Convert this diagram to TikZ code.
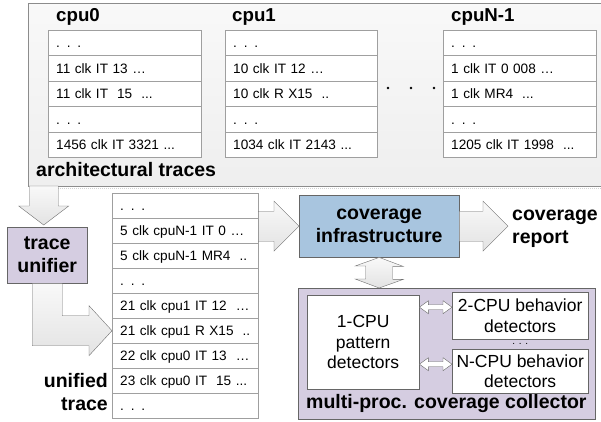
\documentclass[tikz,border=0pt]{standalone}
\usepackage{fontspec}
\setmainfont{Liberation Sans}
\usetikzlibrary{positioning,calc}

\definecolor{panelline}{HTML}{8C8C8C}
\definecolor{rowline}{HTML}{A0A0A0}
\definecolor{boxline}{HTML}{666666}
\definecolor{arrline}{HTML}{707070}
\definecolor{lavender}{HTML}{D5CDE1}
\definecolor{infrablue}{HTML}{A8C5DF}

% dots in trace rows (kept out of \foreach lists)
\newcommand\skiprow{. . .}
\newcommand\tdots{...}
\newcommand\tdd{..}

\tikzset{
  panel/.style={draw=panelline, top color=gray!5, bottom color=gray!13, anchor=north west, inner sep=0pt},
  row/.style={draw=rowline, fill=white, anchor=north west, text width=137pt, inner xsep=8pt, inner ysep=0pt,
    minimum height=25.4pt, text height=9.9pt, text depth=0pt, align=left, font=\fontsize{13.6}{16}\selectfont},
  cpulabel/.style={anchor=base west, inner sep=0pt, font=\fontsize{18.7}{22}\selectfont\bfseries},
  biglabel/.style={inner sep=0pt, font=\fontsize{19.5}{23}\selectfont\bfseries},
  unibox/.style={draw=boxline, fill=lavender, anchor=north west, inner sep=0pt, align=center,
    font=\fontsize{19.5}{23}\selectfont\bfseries},
  detbox/.style={draw=boxline, fill=white, anchor=north west, inner sep=0pt, align=center,
    font=\fontsize{17.5}{20.5}\selectfont},
  blockarr/.style={draw=arrline, top color=gray!5, bottom color=gray!22, line join=miter},
  hollowarr/.style={draw=boxline, fill=white, line join=miter},
  tableedge/.style={draw=gray!75, line width=0.9pt},
}

\begin{document}
\begin{tikzpicture}[x=1pt,y=-1pt]
\useasboundingbox (0,0) rectangle (601,422);

% per-cpu traces
\node[panel, minimum width=577pt, minimum height=183pt] (archpanel) at (28,3) {};
\draw[gray!35, dash pattern=on 1pt off 1pt] ($(archpanel.south west)+(30,2)$) -- ($(archpanel.south east)+(0,2)$);

\node[cpulabel] (cpu0lbl) at (56,22) {cpu0};
\node[cpulabel] (cpu1lbl) at (232,22) {cpu1};
\node[cpulabel] (cpuNlbl) at (451,22) {cpuN-1};

\foreach \txt [count=\i] in {\skiprow, {11 clk IT 13 …}, {11 clk IT \ 15 \ \tdots}, \skiprow, {1456 clk IT 3321 \tdots}}
  \node[row] (c0r\i) at (48,{30+(\i-1)*25.4}) {\mbox{\txt}};
\foreach \txt [count=\i] in {\skiprow, {10 clk IT 12 …}, {10 clk R X15 \ \tdd}, \skiprow, {1034 clk IT 2143 \tdots}}
  \node[row, text width=136pt] (c1r\i) at (225,{30+(\i-1)*25.4}) {\mbox{\txt}};
\foreach \txt [count=\i] in {\skiprow, {1 clk IT 0 008 …}, {1 clk MR4 \ \tdots}, \skiprow, {1205 clk IT 1998 \ \tdots}}
  \node[row] (cNr\i) at (443,{30+(\i-1)*25.4}) {\mbox{\txt}};

\draw[tableedge] (c0r1.north west) rectangle (c0r5.south east);
\draw[tableedge] (c1r1.north west) rectangle (c1r5.south east);
\draw[tableedge] (cNr1.north west) rectangle (cNr5.south east);

\foreach \x in {388,411,434}
  \fill (\x,88) circle (1.3pt);

\node[biglabel, anchor=base west] (archlbl) at (36,176) {architectural traces};

% unifier
\node[unibox, minimum width=80pt, minimum height=56pt] (unifier) at (7,227) {trace\\unifier};

\coordinate (downtip) at ($(unifier.north)+(-3.5,-2)$);
\path[blockarr] (downtip) -- ++(-25,-19) -- ++(10.5,0) -- ++(0,-20) -- ++(29,0) -- ++(0,20) -- ++(10.5,0) -- cycle;

% merged trace
\foreach \txt [count=\i] in {\skiprow, {5 clk cpuN-1 IT 0 …}, {5 clk cpuN-1 MR4 \ \tdd}, \skiprow,
    {21 clk cpu1 IT 12 \ …}, {21 clk cpu1 R X15 \ \tdd}, {22 clk cpu0 IT 13 \ …}, {23 clk cpu0 IT \ 15 \tdots}, \skiprow}
  \node[row, text width=130pt, minimum height=25pt] (ut\i) at (112,{193+(\i-1)*25}) {\mbox{\txt}};
\draw[tableedge] (ut1.north west) rectangle (ut9.south east);

\node[biglabel, anchor=east, align=right] (utlbl) at (108,392) {unified\\trace};

\path[blockarr] ($(unifier.south)+(-15,0)$) |- ($(ut6.west)+(-23,15)$) -- ++(0,10) -- (ut6.west)
  -- ++(-23,-25) -- ++(0,10) -| ($(unifier.south)+(15,0)$) -- cycle;

% coverage
\node[unibox, fill=infrablue, minimum width=160pt, minimum height=62pt] (infra) at (299,195) {coverage\\infrastructure};

\path[blockarr] (infra.west) -- ++(-25,-25) -- ++(0,10) -- ($(infra.west -| ut1.east)+(0,-15)$) -- ++(0,30)
  -- ($(infra.west)+(-25,15)$) -- ++(0,10) -- cycle;

\node[biglabel, anchor=west, align=left] (report) at (512,229) {coverage\\report};
\coordinate (reptip) at ($(infra.east -| report.west)+(-4,0)$);
\path[blockarr] (reptip) -- ++(-25,-25) -- ++(0,10) -- ($(infra.east)+(0,-15)$) -- ++(0,30)
  -- ($(reptip)+(-25,15)$) -- ++(0,10) -- cycle;

% collector
\node[unibox, minimum width=297pt, minimum height=131pt] (collector) at (298,288) {};
\node[biglabel, anchor=base west] (colltitle) at (306,408) {multi-proc. coverage collector};

\path[blockarr] (infra.south) -- ++(24,9) -- ++(-10.5,0) -- ++(0,13) -- ++(10.5,0) -- (infra.south |- collector.north)
  -- ++(-24,-9) -- ++(10.5,0) -- ++(0,-13) -- ++(-10.5,0) -- cycle;

\node[detbox, minimum width=112pt, minimum height=94pt] (onecpu) at (307,295) {1-CPU\\pattern\\detectors};
\node[detbox, minimum width=136pt, minimum height=47pt] (twocpu) at (452,292) {2-CPU behavior\\detectors};
\node[detbox, minimum width=136pt, minimum height=44pt] (ncpu) at (452,349) {N-CPU behavior\\detectors};
\node[inner sep=0pt, font=\fontsize{10}{10}\selectfont] (moredet) at ($(twocpu.south)!0.5!(ncpu.north)$) {\skiprow};

\coordinate (pa) at ($(twocpu.west -| onecpu.east)+(0,-8.5)$);
\coordinate (pb) at ($(twocpu.west)+(0,-8.5)$);
\path[hollowarr] (pa) -- ++(9,-6.5) -- ++(0,4) -- ($(pb)+(-9,-2.5)$) -- ++(0,-4) -- (pb)
  -- ++(-9,6.5) -- ++(0,-4) -- ($(pa)+(9,2.5)$) -- ++(0,4) -- cycle;
\coordinate (qa) at ($(ncpu.west -| onecpu.east)+(0,-7)$);
\coordinate (qb) at ($(ncpu.west)+(0,-7)$);
\path[hollowarr] (qa) -- ++(9,-6.5) -- ++(0,4) -- ($(qb)+(-9,-2.5)$) -- ++(0,-4) -- (qb)
  -- ++(-9,6.5) -- ++(0,-4) -- ($(qa)+(9,2.5)$) -- ++(0,4) -- cycle;
\end{tikzpicture}
\end{document}
